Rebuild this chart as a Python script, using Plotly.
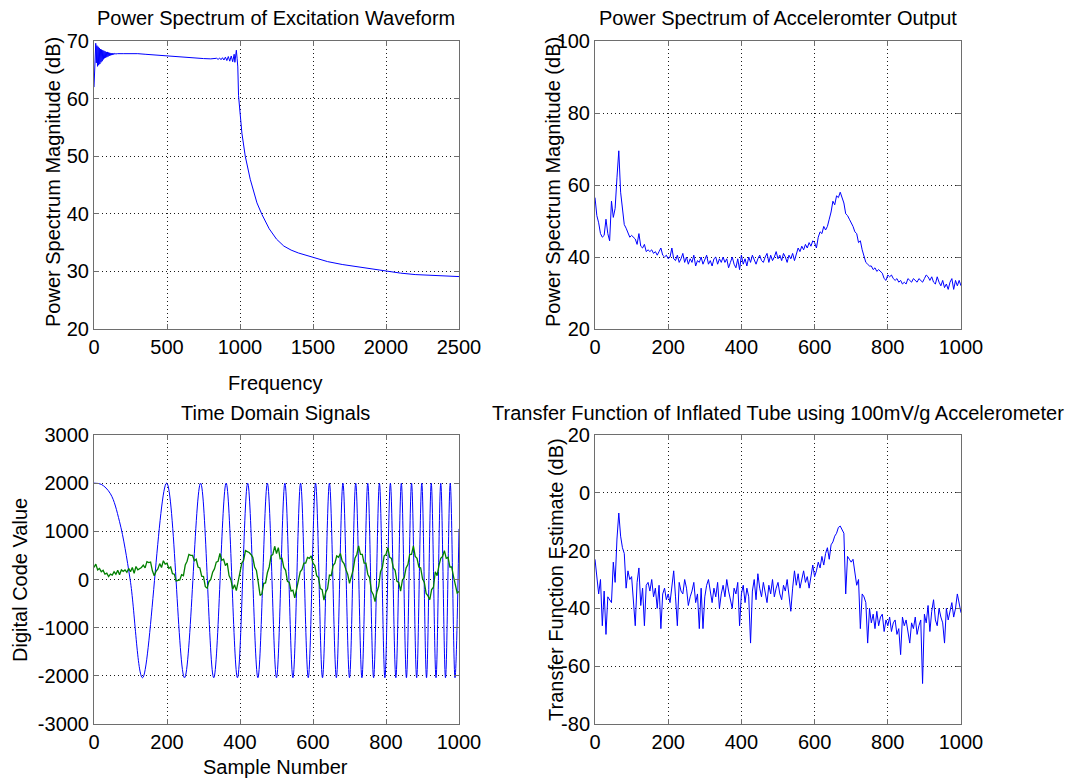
import plotly.graph_objects as go

W, H = 1071, 780
FONT = "Liberation Sans, Arial, Helvetica, sans-serif"
BLUE = "#0000FF"
GREEN = "#008000"

# ---------------- Panel 1: Power spectrum of excitation waveform ----------------
exc_freq = [0, 4, 8, 12, 16, 20, 24, 28, 32, 36, 40, 44, 48, 52, 56, 60, 64, 68, 72, 76,
            80, 84, 88, 92, 96, 100, 104, 108, 112, 116, 120, 124, 128, 132, 136, 140, 150, 160,
            200, 250, 300, 350, 400, 450, 500, 550, 600, 650, 700, 750, 800, 820, 840, 850, 860,
            870, 880, 890, 900, 910, 920, 930, 940, 950, 960, 965, 970, 975, 980, 985, 990, 995,
            1000, 1013, 1036, 1070, 1116, 1150, 1200, 1250, 1300, 1350, 1400, 1450, 1500, 1600,
            1700, 1800, 1900, 2000, 2100, 2200, 2300, 2400, 2500]
exc_db = [62.0, 64.5, 67.0, 69.6, 66.2, 69.2, 65.6, 69.0, 65.8, 68.8, 66.0, 68.6, 66.3, 68.5,
          66.5, 68.4, 66.8, 68.3, 67.0, 68.2, 67.1, 68.1, 67.2, 68.1, 67.3, 68.0, 67.4, 67.95,
          67.5, 67.9, 67.55, 67.9, 67.6, 67.85, 67.65, 67.85, 67.75, 67.8, 67.8, 67.85, 67.8,
          67.7, 67.6, 67.45, 67.35, 67.25, 67.15, 67.05, 67.0, 66.95, 66.9, 66.9, 67.0, 66.8,
          67.05, 66.75, 67.1, 66.7, 67.2, 66.6, 67.3, 66.5, 67.4, 66.4, 67.7, 66.3, 68.2, 68.4,
          67.0, 65.5, 60.5, 59.0, 57.5, 54.0, 50.0, 46.0, 41.9, 39.9, 37.4, 35.6, 34.4, 33.7,
          33.2, 32.8, 32.5, 31.7, 31.2, 30.8, 30.4, 30.0, 29.7, 29.45, 29.3, 29.2, 29.1]

# ---------------- Panel 2: Power spectrum of accelerometer output ----------------
acc_step = 5
acc_db = [56.5, 51.5, 49.5, 46.5, 45.5, 46.0, 50.5, 46.5, 44.5, 55.5,
          51.0, 53.5, 62.0, 69.5, 58.0, 53.5, 49.0, 48.0, 46.5, 45.5,
          46.0, 45.5, 45.0, 43.5, 46.5, 43.0, 42.5, 43.5, 41.5, 42.0,
          41.5, 42.0, 41.0, 41.5, 40.5, 41.5, 42.5, 40.5, 40.0, 40.5,
          39.5, 40.0, 42.5, 39.5, 39.0, 40.5, 38.5, 39.5, 41.0, 38.5,
          40.0, 38.0, 39.5, 38.5, 40.5, 37.5, 39.0, 38.5, 40.0, 38.0,
          39.5, 40.5, 38.0, 39.0, 37.5, 39.5, 40.0, 38.0, 39.5, 38.5,
          40.0, 38.5, 39.5, 37.0, 38.5, 40.0, 38.0, 37.0, 39.5, 36.5,
          40.5, 38.0, 39.5, 37.5, 40.0, 38.5, 40.5, 39.0, 38.0, 39.5,
          40.5, 39.0, 38.5, 40.0, 41.0, 38.5, 40.5, 39.0, 40.0, 41.5,
          39.5, 40.5, 39.0, 41.0, 40.0, 38.5, 40.5, 39.5, 41.0, 39.0,
          41.0, 42.5, 41.5, 43.0, 42.0, 43.5, 42.5, 44.0, 43.0, 44.5,
          44.0, 42.5, 45.5, 47.0, 46.5, 48.5, 47.5, 48.5, 50.5, 52.5,
          55.5, 54.5, 57.0, 56.5, 58.0, 56.5, 55.0, 52.0, 51.5, 50.5,
          49.5, 48.5, 47.0, 46.5, 44.0, 44.5, 42.0, 40.5, 38.5, 38.0,
          37.5, 37.5, 36.5, 37.0, 36.0, 36.5, 36.0, 35.5, 34.0, 33.5,
          35.0, 34.5, 35.0, 34.0, 33.5, 34.0, 33.0, 33.5, 32.5, 33.0,
          32.5, 34.0, 33.5, 33.0, 34.0, 33.5, 33.0, 34.0, 33.5, 33.0,
          34.0, 35.0, 34.5, 33.5, 34.5, 33.0, 32.5, 34.5, 33.0, 32.0,
          33.5, 31.5, 32.5, 31.0, 33.0, 34.0, 31.0, 33.5, 32.0, 33.5,
          32.0]
acc_freq = [i * acc_step for i in range(len(acc_db))]

# ---------------- Panel 3: Time domain signals ----------------
exc_sample = [0, 20, 45, 70, 99, 133, 199, 248, 292, 328, 362, 393, 421, 449, 475, 500, 523,
              545, 566, 587, 607, 626, 645, 664, 682, 700, 717, 734, 750, 766, 782, 797, 812,
              827, 842, 856, 870, 884, 898, 911, 924, 937, 950, 963, 976, 989, 1000]
exc_code = [2000, 1975, 1780, 1200, 0, -2040, 2000, -2040, 2000, -2040, 2000, -2040, 2000,
            -2040, 2000, -2040, 2000, -2040, 2000, -2040, 2000, -2040, 2000, -2040, 2000,
            -2040, 2000, -2040, 2000, -2040, 2000, -2040, 2000, -2040, 2000, -2040, 2000,
            -2040, 2000, -2040, 2000, -2040, 2000, -2040, 2000, -2040, 1050]

acc_sample_step = 5
acc_code = [250, 320, 200, 230, 160, 190, 110, 130, 60, 110,
            90, 160, 110, 190, 100, 200, 170, 200, 150, 230,
            160, 250, 130, 270, 200, 230, 250, 300, 240, 370,
            350, 360, 180, 80, 170, 220, 330, 250, 390, 320,
            340, 230, 260, 120, 110, -30, -20, -10, 100, 80,
            300, 380, 520, 500, 500, 390, 420, 260, 240, 70,
            60, -150, -180, -40, 0, 150, 220, 360, 380, 540,
            400, 420, 290, 340, 80, 0, -200, -110, -230, -60,
            110, 340, 400, 600, 580, 560, 520, 460, 260, 190,
            -60, -330, -300, -80, -70, 140, 260, 490, 520, 690,
            540, 660, 430, 440, 250, 190, -40, -60, -240, -220,
            -380, -200, -90, 160, 210, 340, 340, 460, 440, 490,
            340, 290, 80, 40, -190, -210, -430, -260, -190, 90,
            80, 290, 340, 490, 460, 540, 380, 330, 210, 110,
            -80, 70, 200, 440, 520, 700, 520, 520, 340, 340,
            110, 40, -240, -310, -460, -260, -140, 160, 250, 490,
            520, 660, 460, 440, 240, 190, -40, -60, -240, -10,
            40, 240, 310, 520, 520, 700, 480, 440, 260, 240,
            20, -60, -290, -340, -420, -210, -160, 160, 80, 290,
            440, 480, 600, 440, 460, 260, 260, 60, -80, -280,
            -250]
acc_sample = [i * acc_sample_step for i in range(len(acc_code))]

# ---------------- Panel 4: Transfer function ----------------
tf_step = 5
tf_db = [-23, -28, -35, -30, -46, -34, -49, -36, -37, -38,
         -24, -31, -16, -7, -15, -19, -21, -33, -27, -30,
         -29, -39, -46, -31, -26, -39, -33, -46, -32, -31,
         -34, -30, -36, -33, -40, -32, -47, -35, -33, -37,
         -35, -38, -33, -27, -36, -46, -31, -34, -35, -30,
         -33, -39, -36, -34, -31, -38, -35, -47, -33, -47,
         -36, -32, -30, -34, -38, -33, -36, -31, -40, -35,
         -32, -36, -30, -34, -37, -40, -33, -35, -31, -46,
         -35, -32, -38, -33, -36, -52, -34, -30, -37, -28,
         -33, -36, -31, -34, -38, -32, -35, -30, -36, -33,
         -31, -35, -37, -32, -34, -30, -36, -41, -33, -27,
         -32, -28, -33, -30, -27, -31, -29, -33, -28, -25,
         -29, -27, -24, -26, -22, -25, -21, -19, -23, -18,
         -17, -15, -14, -12, -11.5, -13, -14, -35, -22, -23,
         -24, -23, -28, -32, -30, -47, -35, -36, -38, -52,
         -40, -45, -42, -47, -41, -46, -43, -42, -48, -44,
         -46, -43, -48, -45, -44, -49, -47, -56, -43, -46,
         -44, -48, -52, -45, -47, -43, -49, -46, -44, -66,
         -42, -45, -39, -48, -41, -37, -44, -46, -40, -43,
         -45, -52, -40, -44, -41.5, -38, -43, -40, -35, -39,
         -41.5]
tf_freq = [i * tf_step for i in range(len(tf_db))]

# Tick labels (MATLAB style, plain hyphen minus)
code_ticks = [-3000, -2000, -1000, 0, 1000, 2000, 3000]
code_ticktext = ["-3000", "-2000", "-1000", "0", "1000", "2000", "3000"]
tf_ticks = [-80, -60, -40, -20, 0, 20]
tf_ticktext = ["-80", "-60", "-40", "-20", "0", "20"]

# ---------------- Layout geometry (pixels) ----------------
def px_x(p):
    return p / W

def px_y(p):
    return 1 - p / H

XL = [px_x(94), px_x(459)]
XR = [px_x(595), px_x(961)]
YT = [px_y(329), px_y(41)]
YB = [px_y(724), px_y(435)]

fig = go.Figure()
fig.add_trace(go.Scatter(x=exc_freq, y=exc_db, mode="lines", xaxis="x", yaxis="y",
                         line=dict(color=BLUE, width=1), showlegend=False))
fig.add_trace(go.Scatter(x=acc_freq, y=acc_db, mode="lines", xaxis="x2", yaxis="y2",
                         line=dict(color=BLUE, width=1), showlegend=False))
fig.add_trace(go.Scatter(x=exc_sample, y=exc_code, mode="lines", xaxis="x3", yaxis="y3",
                         line=dict(color=BLUE, width=1, shape="spline", smoothing=1),
                         showlegend=False))
fig.add_trace(go.Scatter(x=acc_sample, y=acc_code, mode="lines", xaxis="x3", yaxis="y3",
                         line=dict(color=GREEN, width=1.3), showlegend=False))
fig.add_trace(go.Scatter(x=tf_freq, y=tf_db, mode="lines", xaxis="x4", yaxis="y4",
                         line=dict(color=BLUE, width=1), showlegend=False))

AXC = "#6e6e6e"

def ax(domain, rng, dtick, anchor, tickvals=None, ticktext=None):
    d = dict(domain=domain, range=rng, dtick=dtick, tick0=rng[0], anchor=anchor,
             showline=True, linecolor=AXC, linewidth=1, mirror="ticks",
             ticks="inside", ticklen=5, tickcolor=AXC, tickwidth=1,
             showgrid=True, gridcolor="#1a1a1a", griddash="1px,3px", gridwidth=1,
             zeroline=False, automargin=False,
             tickfont=dict(family=FONT, size=20, color="black"))
    if tickvals is not None:
        d.update(tickmode="array", tickvals=tickvals, ticktext=ticktext)
    return d

fig.update_layout(
    width=W, height=H, margin=dict(l=0, r=0, t=0, b=0),
    paper_bgcolor="white", plot_bgcolor="white", template="none", showlegend=False,
    xaxis=ax(XL, [0, 2500], 500, "y"),
    yaxis=ax(YT, [20, 70], 10, "x"),
    xaxis2=ax(XR, [0, 1000], 200, "y2"),
    yaxis2=ax(YT, [20, 100], 20, "x2"),
    xaxis3=ax(XL, [0, 1000], 200, "y3"),
    yaxis3=ax(YB, [-3000, 3000], 1000, "x3", code_ticks, code_ticktext),
    xaxis4=ax(XR, [0, 1000], 200, "y4"),
    yaxis4=ax(YB, [-80, 20], 20, "x4", tf_ticks, tf_ticktext),
)

def label(text, x, y, angle=0):
    return dict(text=text, x=px_x(x), y=px_y(y), xref="paper", yref="paper",
                xanchor="center", yanchor="middle", showarrow=False, textangle=angle,
                font=dict(family=FONT, size=20, color="black"))

ann = [
    label("Power Spectrum of Excitation Waveform", 276, 18),
    label("Power Spectrum of Acceleromter Output", 778, 18),
    label("Time Domain Signals", 276, 413),
    label("Transfer Function of Inflated Tube using 100mV/g Accelerometer", 778, 413),
    label("Frequency", 276, 383),
    label("Sample Number", 276, 767),
    label("Power Spectrum Magnitude (dB)", 53, 182, -90),
    label("Power Spectrum Magnitude (dB)", 553, 182, -90),
    label("Digital Code Value", 20, 580, -90),
    label("Transfer Function Estimate (dB)", 556, 580, -90),
]
fig.update_layout(annotations=ann)

fig.write_html("out.html")
